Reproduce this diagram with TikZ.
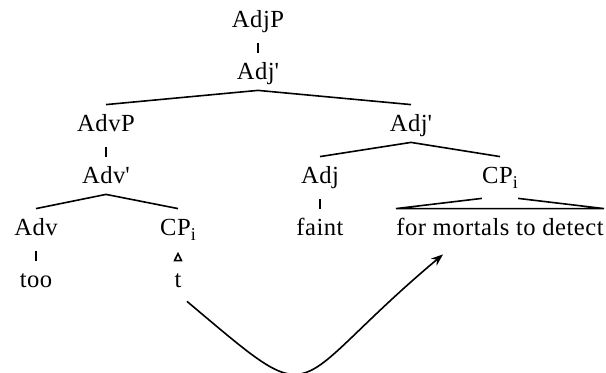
\documentclass[tikz,border=0pt]{standalone}
\usepackage{fontspec}
\setmainfont{Liberation Serif}[LetterSpace=2]
\usetikzlibrary{arrows.meta}

\newcommand{\altI}{\raisebox{-2.5pt}{\fontsize{9}{10}\selectfont i}}

\begin{document}
\begin{tikzpicture}[x=0.5pt,y=-0.5pt,
  etiket/.style={inner sep=0pt,anchor=base,text height=13.5pt,text depth=5pt,
    font=\fontsize{12.3}{14}\selectfont},
  dal/.style={line width=0.8pt},
  cubuk/.style={line width=0.8pt,shorten <=2.5pt}]
\useasboundingbox (0,0) rectangle (606,373);
\node[etiket] (AdjP) at (258,28) {AdjP};
\node[etiket] (AdjBar) at (258,80) {Adj\textquotesingle};
\node[etiket] (AdvP) at (106,132) {AdvP};
\node[etiket] (AdjBarR) at (411,132) {Adj\textquotesingle};
\node[etiket] (AdvBar) at (106,184) {Adv\textquotesingle};
\node[etiket] (Adj) at (320,184) {Adj};
\node[etiket] (CPsag) at (500,184) {CP\altI};
\node[etiket] (Adv) at (36,236) {Adv};
\node[etiket] (CPsol) at (178,236) {CP\altI};
\node[etiket] (faint) at (320,236) {faint};
\node[etiket] (detect) at (500,236) {for mortals to detect};
\node[etiket] (too) at (36,288) {too};
\node[etiket] (t) at (178,288) {t};
% dallar
\draw[cubuk] (AdjP.south) -- (AdjBar.north);
\draw[dal] (AdvP.north) -- (AdjBar.south) -- (AdjBarR.north);
\draw[cubuk] (AdvP.south) -- (AdvBar.north);
\draw[dal] (Adj.north) -- (AdjBarR.south) -- (CPsag.north);
\draw[dal] (Adv.north) -- (AdvBar.south) -- (CPsol.north);
\draw[cubuk] (Adv.south) -- (too.north);
\draw[cubuk] (Adj.south) -- (faint.north);
\draw[dal] ([yshift=-2pt]CPsag.south west) -- (detect.north west) -- (detect.north east) -- ([yshift=-2pt]CPsag.south east);
\draw[dal] ([xshift=-1.7pt]t.north) -- ([yshift=3.5pt]t.north) -- ([xshift=1.7pt]t.north) -- cycle;
% hareket oku
\draw[line width=0.8pt,-{Stealth[length=6pt,width=4.5pt]}] ([xshift=4.5pt,yshift=-1.5pt]t.south)
  .. controls +(138,116) and +(-161,135) .. ([xshift=23.5pt,yshift=-4pt]detect.south west);
\end{tikzpicture}
\end{document}
